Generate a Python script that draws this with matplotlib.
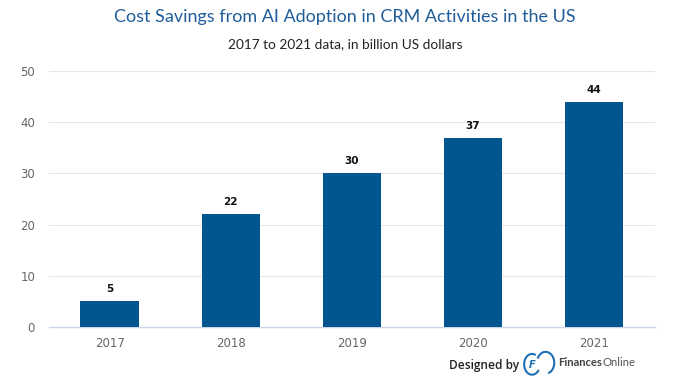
"""
Cost savings from AI adoption in CRM activities - bar chart
"""
import matplotlib
matplotlib.use("Agg")
from matplotlib import pyplot as plt
from matplotlib.patches import Arc

years = ["2017", "2018", "2019", "2020", "2021"]
savings = [5, 22, 30, 37, 44]

bar_color = "#03558f"
title_color = "#1f5d9a"

fig = plt.figure(figsize=(6.9, 3.86), dpi=100)
ax = fig.add_axes([0.071, 0.153, 0.878, 0.663])

bars = ax.bar(years, savings, width=0.48, color=bar_color, zorder=3)
for rect, val in zip(bars, savings):
    ax.annotate(str(val), (rect.get_x() + rect.get_width() / 2, rect.get_height()),
                xytext=(0, 5), textcoords="offset points", ha="center", va="bottom",
                fontsize=7.5, fontweight="bold", color="#111111")

ax.set_ylim(0, 50)
ax.set_xlim(-0.5, 4.5)
ax.set_yticks(range(0, 51, 10))
ax.yaxis.grid(True, color="#e6e6e6", linewidth=0.8, zorder=0)
ax.tick_params(axis="both", length=0, labelsize=8.5, labelcolor="#666666")
ax.tick_params(axis="x", pad=7)
ax.tick_params(axis="y", pad=10)
for side in ["top", "right", "left"]:
    ax.spines[side].set_visible(False)
ax.spines["bottom"].set_color("#ccd6eb")
ax.spines["bottom"].set_linewidth(1)

fig.text(0.5, 0.955, "Cost Savings from AI Adoption in CRM Activities in the US",
         ha="center", va="center", fontsize=13, color=title_color, family="Lato")
fig.text(0.5, 0.885, "2017 to 2021 data, in billion US dollars",
         ha="center", va="center", fontsize=9.8, color="#222222", family="Lato")

# footer
fig.text(0.752, 0.054, "Designed by", ha="right", va="center", fontsize=8.6,
         fontweight="semibold", color="#222222", family="Open Sans")
ax_logo = fig.add_axes([0.758, 0.025, 0.048, 0.068])
ax_logo.set_xlim(0, 2.2)
ax_logo.set_ylim(0, 1.2)
ax_logo.axis("off")
ax_logo.add_patch(Arc((0.6, 0.55), 1.05, 0.95, theta1=60, theta2=330, color="#1f6fb5", lw=1.5))
ax_logo.add_patch(Arc((1.5, 0.62), 1.15, 1.0, theta1=-70, theta2=160, color="#1f6fb5", lw=1.5))
ax_logo.text(0.62, 0.52, "F", ha="center", va="center", fontsize=7, color="#1f6fb5",
             fontweight="bold", style="italic")
t1 = fig.text(0.809, 0.06, "Finances", ha="left", va="center", fontsize=8.1,
              fontweight="bold", color="#444444", family="Lato")
fig.canvas.draw()
bb = t1.get_window_extent(fig.canvas.get_renderer())
x_next = fig.transFigure.inverted().transform((bb.x1, bb.y0))[0]
fig.text(x_next, 0.06, "Online", ha="left", va="center", fontsize=8.1,
         color="#555555", family="Lato")

plt.savefig("out.png", dpi=100)
